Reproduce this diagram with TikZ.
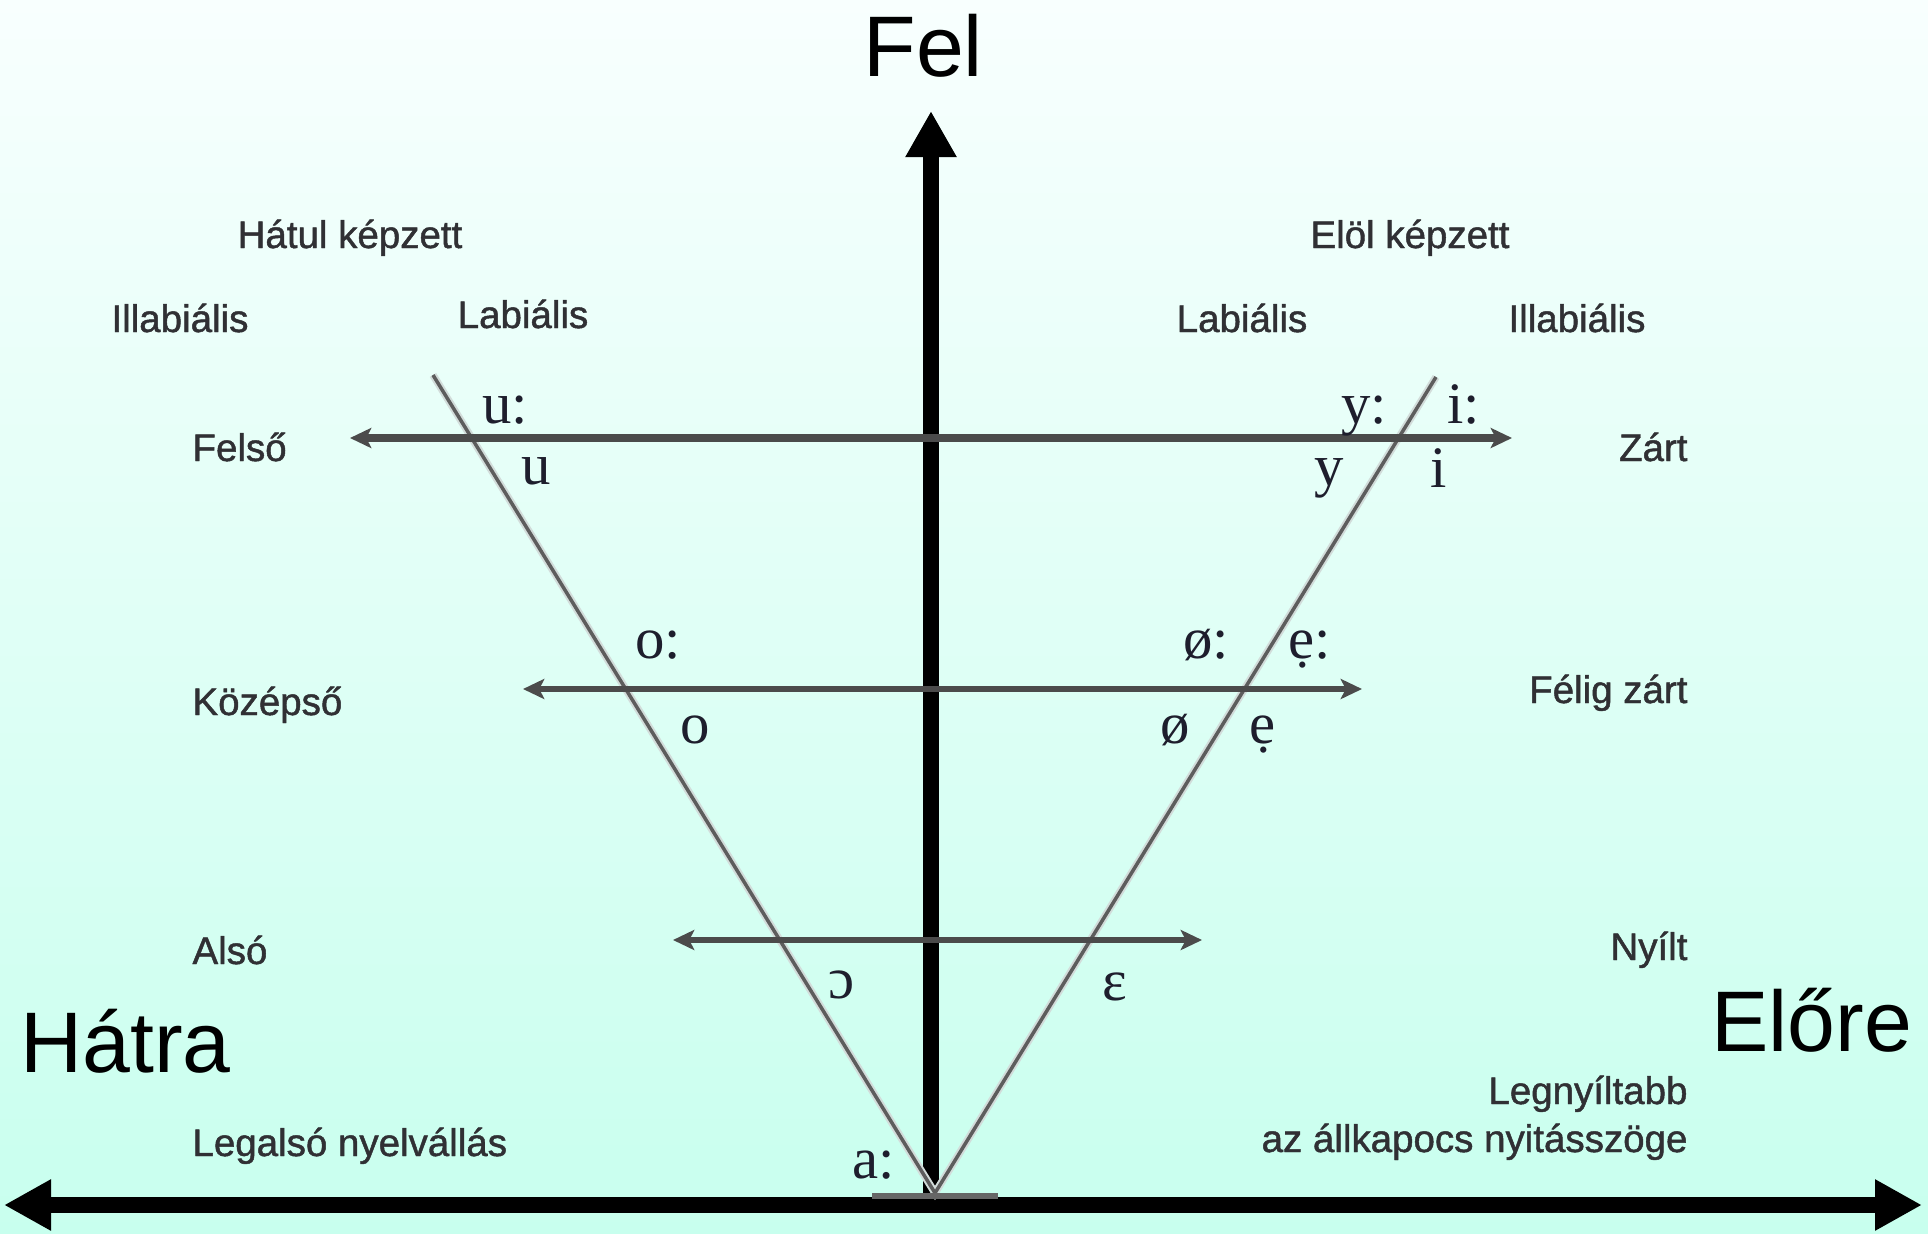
\documentclass[tikz,border=0pt]{standalone}
\usepackage{fontspec}
\setmainfont{Liberation Serif}
\newfontfamily\lsans{Liberation Sans}
\newfontfamily\lsansheavy[FakeBold=1.2]{Liberation Sans}
\usetikzlibrary{arrows.meta}
\definecolor{bgtop}{RGB}{248,255,254}
\definecolor{bgbot}{RGB}{200,255,238}
\definecolor{lblc}{RGB}{48,48,52}
\definecolor{vowc}{RGB}{30,30,45}
\definecolor{garrow}{RGB}{75,75,75}
\definecolor{halo}{RGB}{210,220,218}
\begin{document}
\begin{tikzpicture}[x=0.4pt,y=-0.4pt,
  big/.style={font=\lsans\fontsize{34.4}{40}\selectfont, inner sep=0pt, anchor=base west},
  lbl/.style={font=\lsansheavy\fontsize{15.4}{18}\selectfont, text=lblc, inner sep=0pt},
  vowel/.style={font=\fontsize{23.5}{28}\selectfont, text=vowc, inner sep=0pt, anchor=base west},
  mainaxis/.style={line width=6.2pt},
  grayarr/.style={draw=garrow, {Stealth[length=8.5pt,width=8pt,inset=2pt]}-{Stealth[length=8.5pt,width=8pt,inset=2pt]}},
  haloline/.style={draw=halo, line width=3pt},
  vline/.style={draw=garrow!90, line width=1.4pt}
]
\useasboundingbox (0,0) rectangle (1928,1234);
\shade[top color=bgtop, bottom color=bgbot] (0,0) rectangle (1928,1234);

% coordinates
\coordinate (vbot) at (931,1200);
\coordinate (vtop) at (931,111);
\coordinate (hl) at (4,1205);
\coordinate (hr) at (1922,1205);
\coordinate (apex) at (935,1193);
\coordinate (ltop) at (433,375);
\coordinate (rtop) at (1436,377);
\coordinate (f1) at (350,438);
\coordinate (f2) at (1512,438);
\coordinate (k1) at (523,689);
\coordinate (k2) at (1362,689);
\coordinate (a1) at (673,940);
\coordinate (a2) at (1202,940);
\coordinate (bar1) at (872,1196);
\coordinate (bar2) at (998,1196);

% main axes
\draw[mainaxis, -{Triangle[length=18.4pt,width=19.2pt]}] (vbot) -- (vtop);
\draw[line width=6.4pt, {Triangle[length=18.8pt,width=19.2pt]}-{Triangle[length=18.8pt,width=19.2pt]}] (hl) -- (hr);

% V lines
\draw[haloline] (ltop) -- (apex) -- (rtop);
\draw[vline] (ltop) -- (apex) -- (rtop);

% horizontal gray arrows
\draw[grayarr, line width=3.4pt] (f1) -- (f2);
\draw[grayarr, line width=2.6pt] (k1) -- (k2);
\draw[grayarr, line width=2.4pt] (a1) -- (a2);

% bottom bar
\draw[draw=black!60, line width=2.4pt] (bar1) -- (bar2);

% big labels
\node[big] (fel) at (863,76) {Fel};
\node[big] (hatra) at (20,1072) {Hátra};
\node[big] (elore) at (1711,1051) {Előre};

% small labels
\node[lbl, anchor=base] (hatul) at (350,248) {Hátul képzett};
\node[lbl, anchor=base] (elol) at (1410,248) {Elöl képzett};
\node[lbl, anchor=base] (illl) at (180,332) {Illabiális};
\node[lbl, anchor=base] (labl) at (523,328) {Labiális};
\node[lbl, anchor=base] (labr) at (1242,332) {Labiális};
\node[lbl, anchor=base] (illr) at (1577,332) {Illabiális};
\node[lbl, anchor=base west] (felso) at (192,461) {Felső};
\node[lbl, anchor=base west] (kozep) at (192,715) {Középső};
\node[lbl, anchor=base west] (also) at (192,964) {Alsó};
\node[lbl, anchor=base west] (legalso) at (192,1156) {Legalsó nyelvállás};
\node[lbl, anchor=base east] (zart) at (1688,461) {Zárt};
\node[lbl, anchor=base east] (feligzart) at (1688,703) {Félig zárt};
\node[lbl, anchor=base east] (nyilt) at (1688,960) {Nyílt};
\node[lbl, anchor=base east] (legny) at (1688,1104) {Legnyíltabb};
\node[lbl, anchor=base east] (allk) at (1688,1152) {az állkapocs nyitásszöge};

% vowels
\node[vowel] (uu) at (482,423) {u:};
\node[vowel] (u) at (521,484) {u};
\node[vowel] (yy) at (1341,423) {y:};
\node[vowel] (ii) at (1447,423) {i:};
\node[vowel] (y) at (1314,485) {y};
\node[vowel] (i) at (1430,487) {i};
\node[vowel] (oo) at (635,658) {o:};
\node[vowel] (o) at (680,743) {o};
\node[vowel] (oeoe) at (1183,658) {ø:};
\node[vowel] (ee) at (1288,658) {ẹ:};
\node[vowel] (oe) at (1160,743) {ø};
\node[vowel] (e) at (1249,743) {ẹ};
\node[vowel] (openo) at (828,998) {ɔ};
\node[vowel] (opene) at (1102,1000) {ɛ};
\node[vowel] (aa) at (852,1178) {a:};
\end{tikzpicture}
\end{document}
